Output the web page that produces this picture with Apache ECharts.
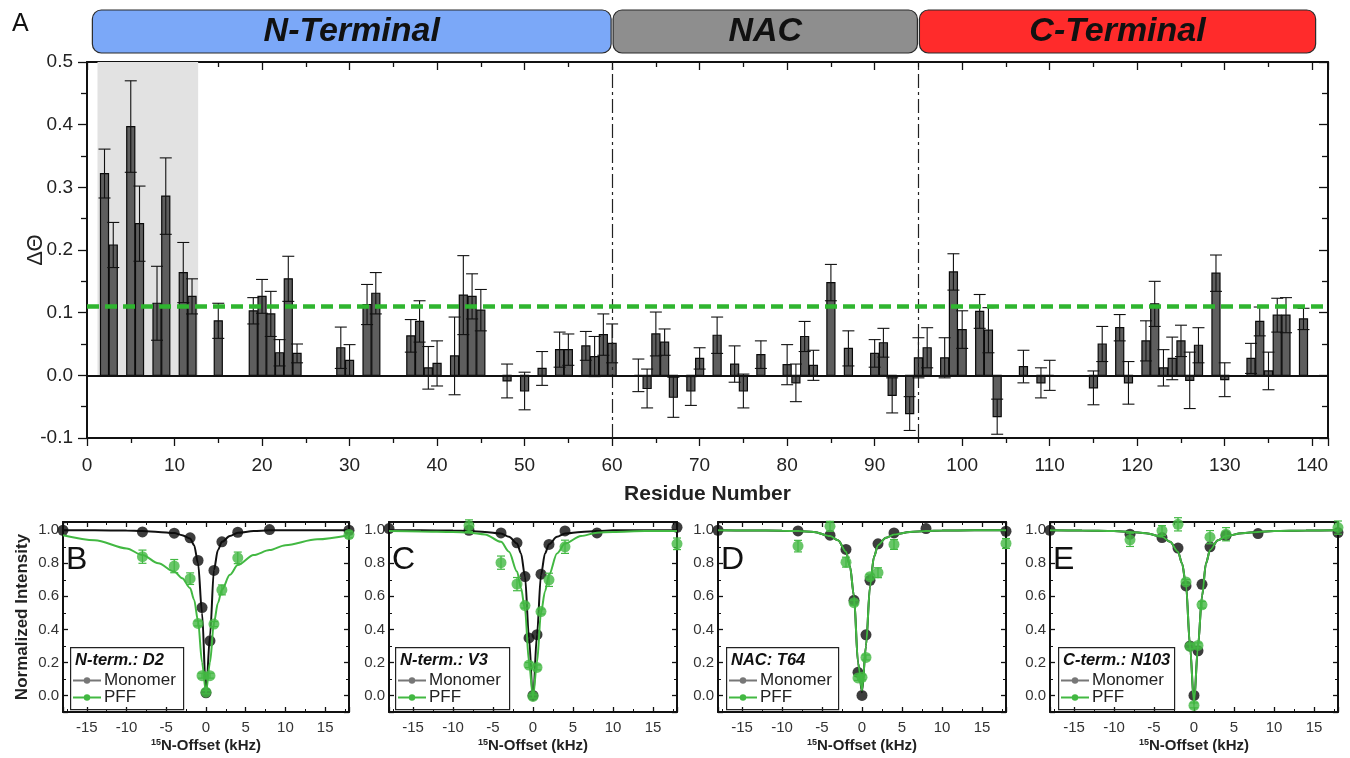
<!DOCTYPE html>
<html lang="en">
<head>
    <meta charset="UTF-8">
    <title>Residue ΔΘ and CEST profiles</title>
    <script src="https://cdn.jsdelivr.net/npm/echarts@6/dist/echarts.min.js"></script>
    <style>
        html, body {
            margin: 0;
            padding: 0;
            background: #fff;
        }

        #chart {
            width: 1350px;
            height: 758px;
        }
    </style>
</head>
<body>
<div id="chart"></div>
<script>
    // ---------- panel A: per-residue values ----------
    const residues = [2, 3, 5, 6, 8, 9, 11, 12, 15, 19, 20, 21, 22, 23, 24, 29, 30, 32, 33, 37, 38, 39, 40, 42, 43, 44, 45,
        48, 50, 52, 54, 55, 57, 58, 59, 60, 63, 64, 65, 66, 67, 69, 70, 72, 74, 75, 77, 80, 81, 82, 83, 85, 87, 90, 91, 92,
        94, 95, 96, 98, 99, 100, 102, 103, 104, 107, 109, 110, 115, 116, 118, 119, 121, 122, 123, 124, 125, 126, 127, 129,
        130, 133, 134, 135, 136, 137, 139];
    const deltaTheta = [0.322, 0.208, 0.397, 0.242, 0.115, 0.286, 0.164, 0.126, 0.087, 0.103, 0.126, 0.098, 0.036, 0.154,
        0.035, 0.044, 0.024, 0.113, 0.131, 0.063, 0.086, 0.012, 0.019, 0.031, 0.128, 0.126, 0.104, -0.009, -0.025, 0.011,
        0.041, 0.041, 0.047, 0.030, 0.065, 0.051, 0.000, -0.021, 0.066, 0.053, -0.035, -0.025, 0.027, 0.064, 0.018, -0.025,
        0.033, 0.017, -0.012, 0.062, 0.016, 0.148, 0.043, 0.035, 0.052, -0.032, -0.061, 0.028, 0.044, 0.028, 0.165, 0.073,
        0.102, 0.072, -0.066, 0.014, -0.012, 0.000, -0.020, 0.050, 0.076, -0.012, 0.055, 0.114, 0.012, 0.027, 0.055,
        -0.008, 0.048, 0.163, -0.007, 0.027, 0.086, 0.007, 0.096, 0.096, 0.090];
    const deltaErr = [0.039, 0.036, 0.073, 0.060, 0.059, 0.061, 0.048, 0.028, 0.028, 0.021, 0.027, 0.036, 0.021, 0.036,
        0.015, 0.033, 0.025, 0.032, 0.033, 0.026, 0.033, 0.034, 0.036, 0.062, 0.063, 0.036, 0.033, 0.027, 0.030, 0.027,
        0.028, 0.025, 0.023, 0.032, 0.033, 0.031, 0.026, 0.031, 0.035, 0.021, 0.032, 0.023, 0.017, 0.029, 0.029, 0.027,
        0.022, 0.032, 0.030, 0.024, 0.024, 0.029, 0.028, 0.022, 0.023, 0.028, 0.027, 0.032, 0.032, 0.032, 0.029, 0.030,
        0.027, 0.036, 0.028, 0.026, 0.024, 0.024, 0.027, 0.028, 0.021, 0.034, 0.032, 0.036, 0.029, 0.034, 0.025, 0.045,
        0.028, 0.029, 0.027, 0.024, 0.023, 0.030, 0.027, 0.028, 0.017];
    const cutoff = 0.11;
    const shadeRange = [1.2, 12.7];
    const domainBounds = [60, 95];
    const regionNames = ['N-Terminal', 'NAC', 'C-Terminal'];
    const regionStart = [0.5, 60, 95];
    const regionEnd = [60, 95, 140.5];

    // ---------- panels B-E: CEST profiles ----------
    const panelLetters = ['B', 'C', 'D', 'E'];
    const panelTitles = ['N-term.: D2', 'N-term.: V3', 'NAC: T64', 'C-term.: N103'];
    const offsets = [-18, -8, -4, -2, -1, -0.5, 0, 0.5, 1, 2, 4, 8, 18];
    const fitOffsets = [-18, -14, -10, -8, -6, -4, -3, -2, -1.5, -1, -0.5, 0, 0.5, 1, 1.5, 2, 3, 4, 6, 8, 10, 14, 18];

    const monomerB = [1.0, 0.99, 0.982, 0.954, 0.817, 0.532, 0.016, 0.331, 0.757, 0.93, 0.988, 1.004, 1.0];
    const pffB = [null, 0.84, 0.783, 0.707, 0.436, 0.12, 0.02, 0.12, 0.432, 0.639, 0.833, null, 0.974];
    const pffErrB = [0, 0.04, 0.04, 0.035, 0.015, 0.015, 0.01, 0.015, 0.015, 0.03, 0.035, 0, 0.02];
    const fitMonomerB = [1.0, 1.0, 0.998, 0.995, 0.99, 0.983, 0.97, 0.95, 0.91, 0.8, 0.5, 0.01, 0.36, 0.76, 0.88, 0.93,
        0.965, 0.985, 0.995, 1.0, 1.0, 1.0, 1.0];
    const fitPffB = [0.97, 0.94, 0.89, 0.85, 0.80, 0.75, 0.71, 0.65, 0.58, 0.45, 0.2, 0.02, 0.2, 0.44, 0.56, 0.64, 0.73,
        0.79, 0.85, 0.88, 0.91, 0.945, 0.97];

    const monomerC = [1.01, 1.0, 0.984, 0.924, 0.72, 0.348, 0.0, 0.368, 0.734, 0.914, 0.996, 0.984, 1.018];
    const pffC = [null, 1.028, 0.804, 0.674, 0.544, 0.184, -0.006, 0.17, 0.508, 0.70, 0.90, null, 0.918];
    const pffErrC = [0, 0.035, 0.04, 0.04, 0.015, 0.015, 0.01, 0.015, 0.015, 0.04, 0.04, 0, 0.035];
    const fitMonomerC = [1.0, 1.0, 0.998, 0.995, 0.99, 0.98, 0.96, 0.92, 0.86, 0.72, 0.35, -0.03, 0.37, 0.73, 0.86, 0.915,
        0.96, 0.98, 0.99, 0.995, 1.0, 1.0, 1.0];
    const fitPffC = [0.995, 0.993, 0.99, 0.985, 0.975, 0.93, 0.87, 0.75, 0.65, 0.52, 0.2, -0.01, 0.2, 0.5, 0.63, 0.73,
        0.86, 0.92, 0.965, 0.985, 0.99, 0.995, 0.995];

    const monomerD = [1.0, 0.996, 0.97, 0.884, 0.576, 0.14, 0.0, 0.367, 0.697, 0.918, 0.984, 1.01, 0.994];
    const pffD = [null, 0.904, 1.024, 0.807, 0.562, 0.106, 0.11, 0.23, 0.719, 0.743, 0.914, null, 0.92];
    const pffErrD = [0, 0.035, 0.03, 0.03, 0.015, 0.015, 0.015, 0.015, 0.015, 0.03, 0.03, 0, 0.03];
    const fitMonomerD = [1.0, 0.999, 0.997, 0.995, 0.99, 0.965, 0.94, 0.87, 0.78, 0.6, 0.2, 0.02, 0.3, 0.66, 0.84, 0.91,
        0.955, 0.975, 0.99, 0.995, 0.998, 1.0, 1.0];
    const fitPffD = [1.0, 0.999, 0.997, 0.995, 0.99, 0.965, 0.94, 0.87, 0.78, 0.6, 0.2, 0.03, 0.3, 0.66, 0.84, 0.91,
        0.955, 0.975, 0.99, 0.995, 0.998, 1.0, 1.0];

    const monomerE = [1.0, 0.976, 0.956, 0.892, 0.663, 0.30, 0.0, 0.27, 0.673, 0.9, 0.968, 0.98, 0.986];
    const pffE = [null, 0.942, 0.998, 1.036, 0.687, 0.297, -0.06, 0.303, 0.549, 0.958, 0.976, null, 1.016];
    const pffErrE = [0, 0.04, 0.03, 0.04, 0.015, 0.015, 0.015, 0.015, 0.02, 0.04, 0.04, 0, 0.04];
    const fitMonomerE = [1.0, 0.998, 0.995, 0.99, 0.982, 0.96, 0.93, 0.87, 0.8, 0.67, 0.3, -0.05, 0.3, 0.6, 0.8, 0.88,
        0.94, 0.965, 0.982, 0.99, 0.995, 0.998, 1.0];
    const fitPffE = fitMonomerE;

    const panels = [
        {mono: monomerB, pff: pffB, err: pffErrB, fitMono: fitMonomerB, fitPff: fitPffB},
        {mono: monomerC, pff: pffC, err: pffErrC, fitMono: fitMonomerC, fitPff: fitPffC},
        {mono: monomerD, pff: pffD, err: pffErrD, fitMono: fitMonomerD, fitPff: fitPffD},
        {mono: monomerE, pff: pffE, err: pffErrE, fitMono: fitMonomerE, fitPff: fitPffE}
    ];

    // ---------- styles / layout ----------
    const FONT = 'Arial, "Liberation Sans", Helvetica, sans-serif';
    const regionColors = ['#7ba8f8', '#8e8e8e', '#ff2b2b'];
    const GREEN = '#42b842';
    const mainGrid = {left: 87, top: 62, width: 1241, height: 376};
    const smallLeft = [63, 389, 718, 1050];
    const smallWidth = [286, 288, 288, 288];
    const smallTop = 522, smallHeight = 190;
    const boxLeft = [70, 395, 726, 1058];
    const boxWidth = [113, 114, 112, 116];

    let chart = echarts.init(document.getElementById('chart'));

    let grids = [
        mainGrid,
        {left: 87, top: 10, width: 1241, height: 43}
    ];
    smallLeft.forEach(function (l, i) {
        grids.push({left: l, top: smallTop, width: smallWidth[i], height: smallHeight});
    });

    function tickStyle(inside, len) {
        return {show: true, inside: inside, length: len, lineStyle: {color: '#111', width: 1.3}};
    }

    const frameLine = {onZero: false, lineStyle: {color: '#111', width: 2}};

    let xAxes = [
        {
            gridIndex: 0, type: 'value', min: 0, max: 141.8, interval: 10, position: 'bottom',
            axisLine: frameLine,
            axisTick: tickStyle(false, 8),
            minorTick: {show: true, splitNumber: 2, length: 5, lineStyle: {color: '#111', width: 1.3}},
            axisLabel: {
                fontSize: 19, color: '#222', fontFamily: FONT, margin: 18,
                formatter: function (v) { return v % 10 === 0 ? String(v) : ''; }
            },
            splitLine: {show: false},
            name: 'Residue Number', nameLocation: 'middle', nameGap: 46,
            nameTextStyle: {fontSize: 21, fontWeight: 'bold', color: '#222', fontFamily: FONT}
        },
        {
            gridIndex: 0, type: 'value', min: 0, max: 141.8, interval: 10, position: 'top',
            axisLine: frameLine,
            axisTick: tickStyle(true, 8),
            minorTick: {show: true, splitNumber: 2, length: 5, lineStyle: {color: '#111', width: 1.3}},
            axisLabel: {show: false}, splitLine: {show: false}
        },
        {gridIndex: 1, type: 'value', min: 0, max: 141.8, show: false}
    ];
    let yAxes = [
        {
            gridIndex: 0, type: 'value', min: -0.1, max: 0.5, interval: 0.1, position: 'left',
            axisLine: frameLine,
            axisTick: tickStyle(false, 9),
            minorTick: {show: true, splitNumber: 2, length: 6, lineStyle: {color: '#111', width: 1.3}},
            axisLabel: {
                fontSize: 19, color: '#222', fontFamily: FONT, margin: 14,
                formatter: function (v) { return v.toFixed(1); }
            },
            splitLine: {show: false},
            name: 'ΔΘ', nameLocation: 'middle', nameGap: 40, nameMoveOverlap: false,
            nameTextStyle: {fontSize: 22, color: '#222', fontFamily: FONT}
        },
        {
            gridIndex: 0, type: 'value', min: -0.1, max: 0.5, interval: 0.1, position: 'right',
            axisLine: frameLine,
            axisTick: tickStyle(true, 9),
            minorTick: {show: true, splitNumber: 2, length: 6, lineStyle: {color: '#111', width: 1.3}},
            axisLabel: {show: false}, splitLine: {show: false}
        },
        {gridIndex: 1, type: 'value', min: 0, max: 1, show: false}
    ];

    function smallX(g, pos) {
        let bottom = pos === 'bottom';
        return {
            gridIndex: g, type: 'value', min: -18, max: 18, splitNumber: 7, position: pos,
            axisLine: frameLine,
            axisTick: tickStyle(true, 5),
            minorTick: {show: true, splitNumber: 2, length: 3, lineStyle: {color: '#111', width: 1}},
            axisLabel: {
                show: bottom, fontSize: 15, color: '#333', fontFamily: FONT, margin: 8,
                formatter: function (v) { return (Math.abs(v) <= 15 && v % 5 === 0) ? String(v) : ''; }
            },
            splitLine: {show: false},
            name: bottom ? '{sup|15}N-Offset (kHz)' : '', nameLocation: 'middle', nameGap: 26,
            nameTextStyle: {
                fontSize: 15, fontWeight: 'bold', color: '#222', fontFamily: FONT,
                rich: {sup: {fontSize: 9, fontWeight: 'bold', verticalAlign: 'top', padding: [0, 0, 6, 0], color: '#222'}}
            }
        };
    }

    function smallY(g, pos, withName) {
        let left = pos === 'left';
        return {
            gridIndex: g, type: 'value', min: -0.1, max: 1.05, splitNumber: 5, position: pos,
            axisLine: frameLine,
            axisTick: tickStyle(true, 5),
            minorTick: {show: true, splitNumber: 2, length: 3, lineStyle: {color: '#111', width: 1}},
            axisLabel: {
                show: left, fontSize: 15, color: '#333', fontFamily: FONT, margin: 4,
                formatter: function (v) {
                    let k = v * 5;
                    return (v > -1e-6 && v < 1.0001 && Math.abs(k - Math.round(k)) < 1e-6) ? v.toFixed(1) : '';
                }
            },
            splitLine: {show: false},
            name: withName ? 'Normalized Intensity' : '', nameLocation: 'middle', nameGap: 32,
            nameTextStyle: {fontSize: 17, fontWeight: 'bold', color: '#222', fontFamily: FONT}
        };
    }

    for (let i = 0; i < 4; i++) xAxes.push(smallX(2 + i, 'bottom'));
    for (let i = 0; i < 4; i++) xAxes.push(smallX(2 + i, 'top'));
    for (let i = 0; i < 4; i++) yAxes.push(smallY(2 + i, 'left', i === 0));
    for (let i = 0; i < 4; i++) yAxes.push(smallY(2 + i, 'right', false));

    // ---------- series ----------
    let series = [];

    // shaded block + domain borders (behind bars)
    series.push({
        type: 'line', xAxisIndex: 0, yAxisIndex: 0, data: [], z: 1, silent: true,
        markArea: {
            silent: true,
            itemStyle: {color: '#e2e2e2'},
            data: [[{xAxis: shadeRange[0], yAxis: 0}, {xAxis: shadeRange[1], yAxis: 0.5}]]
        },
        markLine: {
            silent: true, symbol: 'none', label: {show: false},
            lineStyle: {color: '#222', width: 1.2, type: [14, 4, 3, 4]},
            data: domainBounds.map(function (b) { return {xAxis: b}; })
        }
    });

    // bars
    series.push({
        type: 'custom', name: 'bars', xAxisIndex: 0, yAxisIndex: 0, z: 3,
        data: residues.map(function (r, i) { return [r, deltaTheta[i]]; }),
        encode: {x: 0, y: 1},
        renderItem: function (params, api) {
            let x = api.value(0), v = api.value(1);
            let a = api.coord([x - 0.46, v]);
            let b = api.coord([x + 0.46, 0]);
            return {
                type: 'rect',
                shape: {x: a[0], y: Math.min(a[1], b[1]), width: b[0] - a[0], height: Math.abs(b[1] - a[1])},
                style: {fill: '#5e5e5e', stroke: '#0a0a0a', lineWidth: 1.2}
            };
        }
    });

    // error bars
    series.push({
        type: 'custom', name: 'err', xAxisIndex: 0, yAxisIndex: 0, z: 4,
        data: residues.map(function (r, i) { return [r, deltaTheta[i], deltaErr[i]]; }),
        encode: {x: 0, y: 1},
        renderItem: function (params, api) {
            let x = api.value(0), v = api.value(1), e = api.value(2);
            let top = api.coord([x, v + e]);
            let bot = api.coord([x, v - e]);
            let st = {stroke: '#111', lineWidth: 1.1};
            return {
                type: 'group', children: [
                    {type: 'line', shape: {x1: top[0], y1: top[1], x2: bot[0], y2: bot[1]}, style: st},
                    {type: 'line', shape: {x1: top[0] - 6, y1: top[1], x2: top[0] + 6, y2: top[1]}, style: st},
                    {type: 'line', shape: {x1: bot[0] - 6, y1: bot[1], x2: bot[0] + 6, y2: bot[1]}, style: st}
                ]
            };
        }
    });

    // zero line and cutoff (on top)
    series.push({
        type: 'line', xAxisIndex: 0, yAxisIndex: 0, data: [], z: 6, silent: true,
        markLine: {
            silent: true, symbol: 'none', label: {show: false},
            data: [
                {yAxis: 0, lineStyle: {color: '#111', width: 2, type: 'solid'}},
                {yAxis: cutoff, lineStyle: {color: '#2fb52f', width: 4.5, type: [12, 6]}}
            ]
        }
    });

    // domain header
    series.push({
        type: 'custom', xAxisIndex: 2, yAxisIndex: 2, silent: true,
        data: regionStart.map(function (s, i) { return [s, regionEnd[i], i]; }),
        encode: {x: [0, 1]},
        renderItem: function (params, api) {
            let i = api.value(2);
            let a = api.coord([api.value(0), 1]);
            let b = api.coord([api.value(1), 0]);
            return {
                type: 'rect',
                shape: {x: a[0] + 1, y: a[1], width: b[0] - a[0] - 2, height: b[1] - a[1], r: 9},
                style: {fill: regionColors[i], stroke: '#2a2a2a', lineWidth: 1.2},
                textContent: {
                    style: {
                        text: regionNames[i], fill: '#111', fontSize: 34, fontWeight: 'bold',
                        fontStyle: 'italic', fontFamily: FONT
                    }
                },
                textConfig: {position: 'inside'}
            };
        }
    });

    // small panels
    panels.forEach(function (p, i) {
        let xi = 3 + i, yi = 3 + i;
        series.push({
            type: 'line', name: 'Monomer', xAxisIndex: xi, yAxisIndex: yi, z: 3,
            data: fitOffsets.map(function (x, k) { return [x, p.fitMono[k]]; }),
            smooth: 0.3, smoothMonotone: 'x', symbol: 'circle', symbolSize: 6, showSymbol: false,
            color: '#777', lineStyle: {color: '#111', width: 2}, silent: true
        });
        series.push({
            type: 'scatter', name: 'mono-pts', xAxisIndex: xi, yAxisIndex: yi, z: 4,
            data: offsets.map(function (x, k) { return [x, p.mono[k]]; }),
            symbolSize: 11, itemStyle: {color: '#0d0d0d'}, silent: true
        });
        series.push({
            type: 'line', name: 'PFF', xAxisIndex: xi, yAxisIndex: yi, z: 5,
            data: fitOffsets.map(function (x, k) { return [x, p.fitPff[k]]; }),
            smooth: 0.3, smoothMonotone: 'x', symbol: 'circle', symbolSize: 6, showSymbol: false,
            color: GREEN, lineStyle: {color: GREEN, width: 2}, silent: true
        });
        series.push({
            type: 'custom', name: 'pff-err', xAxisIndex: xi, yAxisIndex: yi, z: 6, silent: true,
            data: offsets.map(function (x, k) { return [x, p.pff[k], p.err[k]]; })
                .filter(function (d) { return d[1] !== null; }),
            encode: {x: 0, y: 1},
            renderItem: function (params, api) {
                let x = api.value(0), v = api.value(1), e = api.value(2);
                let top = api.coord([x, v + e]);
                let bot = api.coord([x, v - e]);
                let st = {stroke: GREEN, lineWidth: 1.2};
                return {
                    type: 'group', children: [
                        {type: 'line', shape: {x1: top[0], y1: top[1], x2: bot[0], y2: bot[1]}, style: st},
                        {type: 'line', shape: {x1: top[0] - 4, y1: top[1], x2: top[0] + 4, y2: top[1]}, style: st},
                        {type: 'line', shape: {x1: bot[0] - 4, y1: bot[1], x2: bot[0] + 4, y2: bot[1]}, style: st}
                    ]
                };
            }
        });
        series.push({
            type: 'scatter', name: 'pff-pts', xAxisIndex: xi, yAxisIndex: yi, z: 7,
            data: offsets.map(function (x, k) { return [x, p.pff[k]]; })
                .filter(function (d) { return d[1] !== null; }),
            symbolSize: 11, itemStyle: {color: GREEN}, silent: true
        });
    });

    // legends inside the small panels
    let legends = boxLeft.map(function (l) {
        return {
            left: l + 2, top: 672, orient: 'vertical', itemGap: 0, padding: 0, z: 20,
            itemWidth: 28, itemHeight: 8, selectedMode: false,
            textStyle: {fontSize: 17, color: '#222', fontFamily: FONT, padding: [0, 0, 0, -2]},
            data: [
                {name: 'Monomer', itemStyle: {color: '#777'}, lineStyle: {color: '#777', width: 2}},
                {name: 'PFF', itemStyle: {color: GREEN}, lineStyle: {color: GREEN, width: 2}}
            ]
        };
    });

    // panel letters, legend frames and titles
    let graphics = [{
        type: 'text', left: 12, top: 12,
        style: {text: 'A', fontSize: 25, fill: '#111', fontFamily: FONT}
    }];
    smallLeft.forEach(function (l, i) {
        graphics.push({
            type: 'text', left: l + 3, top: 544,
            style: {text: panelLetters[i], fontSize: 32, fill: '#111', fontFamily: FONT}
        });
        graphics.push({
            type: 'rect', left: boxLeft[i], top: 647, z: 10,
            shape: {width: boxWidth[i], height: 62},
            style: {fill: 'rgba(255,255,255,0)', stroke: '#222', lineWidth: 1.2}
        });
        graphics.push({
            type: 'text', left: boxLeft[i] + 5, top: 652, z: 11,
            style: {
                text: panelTitles[i], fontSize: 16.5, fontWeight: 'bold', fontStyle: 'italic',
                fill: '#111', fontFamily: FONT
            }
        });
    });

    let option = {
        backgroundColor: '#fff',
        animation: false,
        grid: grids,
        xAxis: xAxes,
        yAxis: yAxes,
        legend: legends,
        graphic: graphics,
        series: series
    };

    option && chart.setOption(option);
</script>
</body>
</html>
